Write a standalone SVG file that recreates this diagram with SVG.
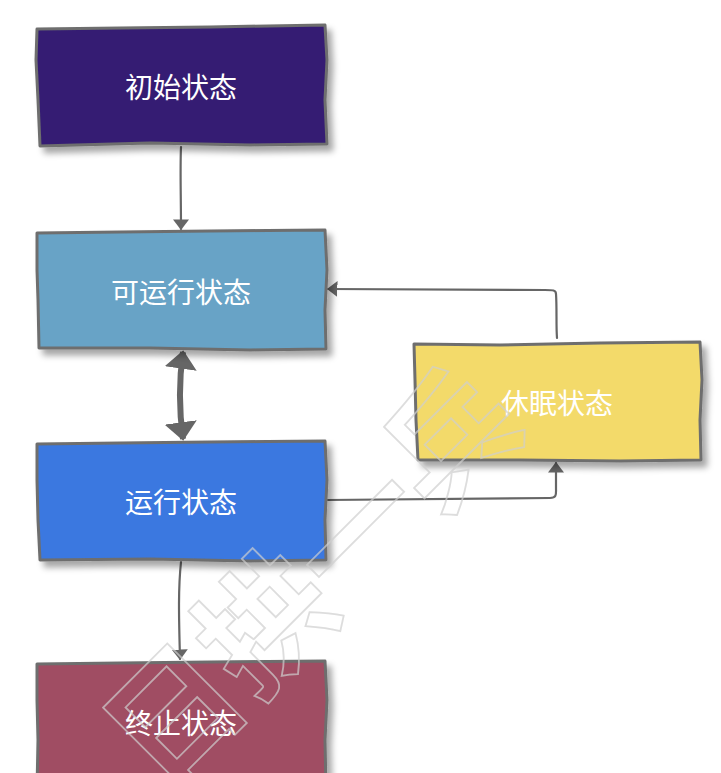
<svg xmlns="http://www.w3.org/2000/svg" width="721" height="773" viewBox="0 0 721 773">
  <defs>
    <filter id="shadow" x="-10%" y="-10%" width="125%" height="130%">
      <feDropShadow dx="5" dy="6" stdDeviation="3" flood-color="#000" flood-opacity="0.35"/>
    </filter>
    <marker id="head" viewBox="0 0 10 10" preserveAspectRatio="none" refX="9" refY="5" markerWidth="4.8" markerHeight="7.3" orient="auto" markerUnits="strokeWidth">
      <path d="M0,0 L10,5 L0,10 Z" fill="#666"/>
    </marker>
    <marker id="bighead" viewBox="0 0 10 10" preserveAspectRatio="none" refX="9" refY="5" markerWidth="3.1" markerHeight="5.4" orient="auto-start-reverse" markerUnits="strokeWidth">
      <path d="M0,0 L10,5 L0,10 Z" fill="#666"/>
    </marker>
  </defs>
  <style>
    .box { stroke: #6e6e6e; stroke-width: 3; stroke-linejoin: round; filter: url(#shadow); }
    .label { font-family: "Noto Sans CJK SC", "Noto Sans", sans-serif; font-size: 28px; fill: #ffffff; text-anchor: middle; dominant-baseline: central; }
    .wire { fill: none; stroke: #666; stroke-width: 2.2; stroke-linecap: round; stroke-linejoin: round; }
    .mark { font-family: "Noto Sans CJK SC", sans-serif; font-size: 130px; font-weight: 700; fill: none; stroke: #cfcfcf; stroke-opacity: 0.7; stroke-width: 1.8; text-anchor: middle; dominant-baseline: central; }
  </style>

  <rect width="721" height="773" fill="#ffffff"/>

  <!-- connectors -->
  <g id="connectors">
    <path class="wire" d="M181,147 C180,170 181,195 181,229" marker-end="url(#head)"/>
    <path d="M183,352 C179,380 179,410 183,439" fill="none" stroke="#666" stroke-width="6" marker-start="url(#bighead)" marker-end="url(#bighead)"/>
    <path class="wire" d="M557,338 C556,325 557,308 556,294 C556,290 553,290 545,290 L328,289" marker-end="url(#head)"/>
    <path class="wire" d="M327,500 L550,498 C557,498 556,494 556,488 L556,463" marker-end="url(#head)"/>
    <path class="wire" d="M181,562 C178,590 179,620 180,659" marker-end="url(#head)"/>
  </g>

  <g id="node-init">
    <path class="box" fill="#361f73" d="M37,29 L120,28 L210,27 L325,25 L327,60 L325,100 L327,144 L250,145 L150,143 L40,146 L38,100 L36,60 Z"/>
    <text class="label" x="181" y="86">初始状态</text>
  </g>

  <g id="node-runnable">
    <path class="box" fill="#67a3c6" d="M37,233 L120,232 L210,231 L325,230 L327,270 L325,310 L326,349 L250,350 L150,348 L39,348 L38,300 L37,270 Z"/>
    <text class="label" x="181" y="291">可运行状态</text>
  </g>

  <g id="node-running">
    <path class="box" fill="#3a78e0" d="M37,444 L120,443 L210,442 L325,441 L327,480 L325,520 L326,560 L250,561 L150,559 L40,560 L38,520 L37,480 Z"/>
    <text class="label" x="181" y="501">运行状态</text>
  </g>

  <g id="node-sleep">
    <path class="box" fill="#f3da6b" d="M414,344 L500,345 L600,343 L700,342 L702,380 L700,420 L701,460 L620,461 L520,460 L418,460 L416,420 L415,380 Z"/>
    <text class="label" x="557" y="402">休眠状态</text>
  </g>

  <g id="node-terminated">
    <path class="box" fill="#a04d63" d="M37,664 L120,663 L210,662 L325,661 L327,700 L325,740 L326,790 L37,790 L38,740 L37,700 Z"/>
    <text class="label" x="181" y="722">终止状态</text>
  </g>

  <!-- faint diagonal signature across the page -->
  <text class="mark" x="305" y="570" transform="rotate(-45 305 570)">日拱一兵</text>
</svg>
